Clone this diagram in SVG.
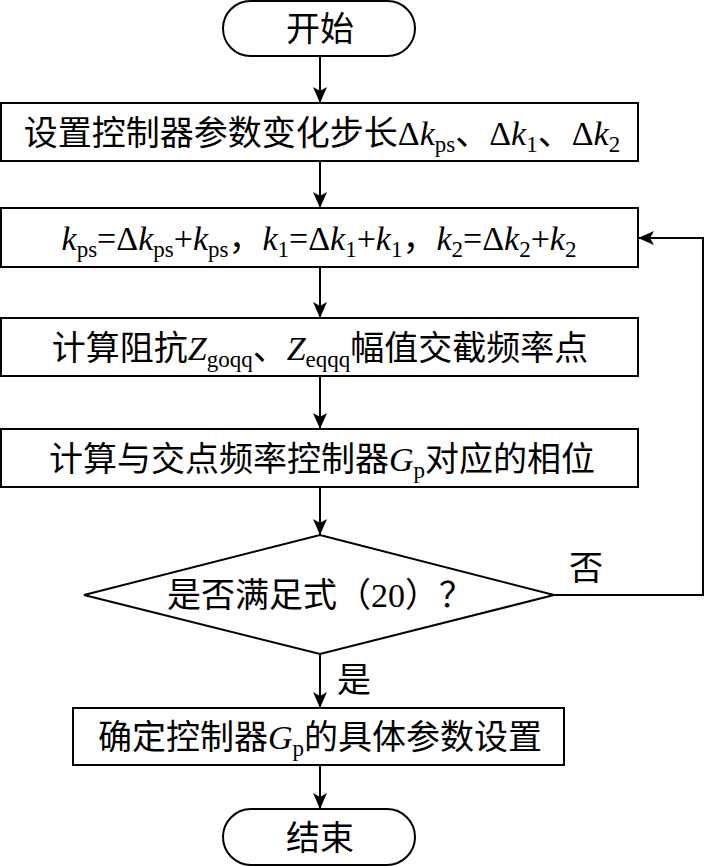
<svg xmlns="http://www.w3.org/2000/svg" width="705" height="866" viewBox="0 0 705 866">
<style>
.shape{fill:#fff;stroke:#000;stroke-width:2}
.t{font-family:"Liberation Serif","Noto Sans CJK SC",serif;font-size:34px;fill:#000;text-anchor:middle}
.i{font-style:italic}
.s{font-size:23px}
.c{fill:none;stroke:#000;stroke-width:2}
</style>
<defs>
<marker id="ah" markerUnits="userSpaceOnUse" markerWidth="18" markerHeight="16" refX="16" refY="7" orient="auto">
<path d="M0,0 L16,7 L0,14 L4,7 z" fill="#000"/>
</marker>
</defs>
<g id="connectors">
<line class="c" x1="320" y1="56" x2="320" y2="103" marker-end="url(#ah)"/>
<line class="c" x1="320" y1="161" x2="320" y2="208" marker-end="url(#ah)"/>
<line class="c" x1="320" y1="267" x2="320" y2="318" marker-end="url(#ah)"/>
<line class="c" x1="320" y1="376" x2="320" y2="429" marker-end="url(#ah)"/>
<line class="c" x1="320" y1="487" x2="320" y2="535" marker-end="url(#ah)"/>
<line class="c" x1="320" y1="654" x2="320" y2="708" marker-end="url(#ah)"/>
<line class="c" x1="320" y1="765" x2="320" y2="809" marker-end="url(#ah)"/>
<polyline class="c" points="554,595 703,595 703,238 638,238" marker-end="url(#ah)"/>
<text class="t" x="586" y="580">否</text>
<text class="t" x="354" y="692">是</text>
</g>
<g id="start">
<rect class="shape" x="223" y="1" width="192" height="55" rx="27.5"/>
<text class="t" x="320" y="41">开始</text>
</g>
<g id="step1">
<rect class="shape" x="1" y="103" width="637" height="58"/>
<text class="t" x="322" y="145">设置控制器参数变化步长Δ<tspan class="i">k</tspan><tspan class="s" dy="7">ps</tspan><tspan dy="-7">、Δ</tspan><tspan class="i">k</tspan><tspan class="s" dy="7">1</tspan><tspan dy="-7">、Δ</tspan><tspan class="i">k</tspan><tspan class="s" dy="7">2</tspan></text>
</g>
<g id="step2">
<rect class="shape" x="1" y="208" width="637" height="59"/>
<text class="t" x="319" y="250"><tspan class="i">k</tspan><tspan class="s" dy="7">ps</tspan><tspan dy="-7">=Δ</tspan><tspan class="i">k</tspan><tspan class="s" dy="7">ps</tspan><tspan dy="-7">+</tspan><tspan class="i">k</tspan><tspan class="s" dy="7">ps</tspan><tspan dy="-7">，</tspan><tspan class="i">k</tspan><tspan class="s" dy="7">1</tspan><tspan dy="-7">=Δ</tspan><tspan class="i">k</tspan><tspan class="s" dy="7">1</tspan><tspan dy="-7">+</tspan><tspan class="i">k</tspan><tspan class="s" dy="7">1</tspan><tspan dy="-7">，</tspan><tspan class="i">k</tspan><tspan class="s" dy="7">2</tspan><tspan dy="-7">=Δ</tspan><tspan class="i">k</tspan><tspan class="s" dy="7">2</tspan><tspan dy="-7">+</tspan><tspan class="i">k</tspan><tspan class="s" dy="7">2</tspan></text>
</g>
<g id="step3">
<rect class="shape" x="1" y="318" width="637" height="58"/>
<text class="t" x="320" y="360">计算阻抗<tspan class="i">Z</tspan><tspan class="s" dy="7">goqq</tspan><tspan dy="-7">、</tspan><tspan class="i">Z</tspan><tspan class="s" dy="7">eqqq</tspan><tspan dy="-7">幅值交截频率点</tspan></text>
</g>
<g id="step4">
<rect class="shape" x="1" y="429" width="637" height="58"/>
<text class="t" x="322" y="471">计算与交点频率控制器<tspan class="i">G</tspan><tspan class="s" dy="7">p</tspan><tspan dy="-7">对应的相位</tspan></text>
</g>
<g id="decision">
<polygon class="shape" points="84,595 320,535 554,595 320,654"/>
<text class="t" x="320" y="607">是否满足式（20）？</text>
</g>
<g id="step5">
<rect class="shape" x="73" y="708" width="491" height="57"/>
<text class="t" x="320" y="749">确定控制器<tspan class="i">G</tspan><tspan class="s" dy="7">p</tspan><tspan dy="-7">的具体参数设置</tspan></text>
</g>
<g id="end">
<rect class="shape" x="223" y="809" width="192" height="56" rx="28"/>
<text class="t" x="320" y="850">结束</text>
</g>
</svg>
